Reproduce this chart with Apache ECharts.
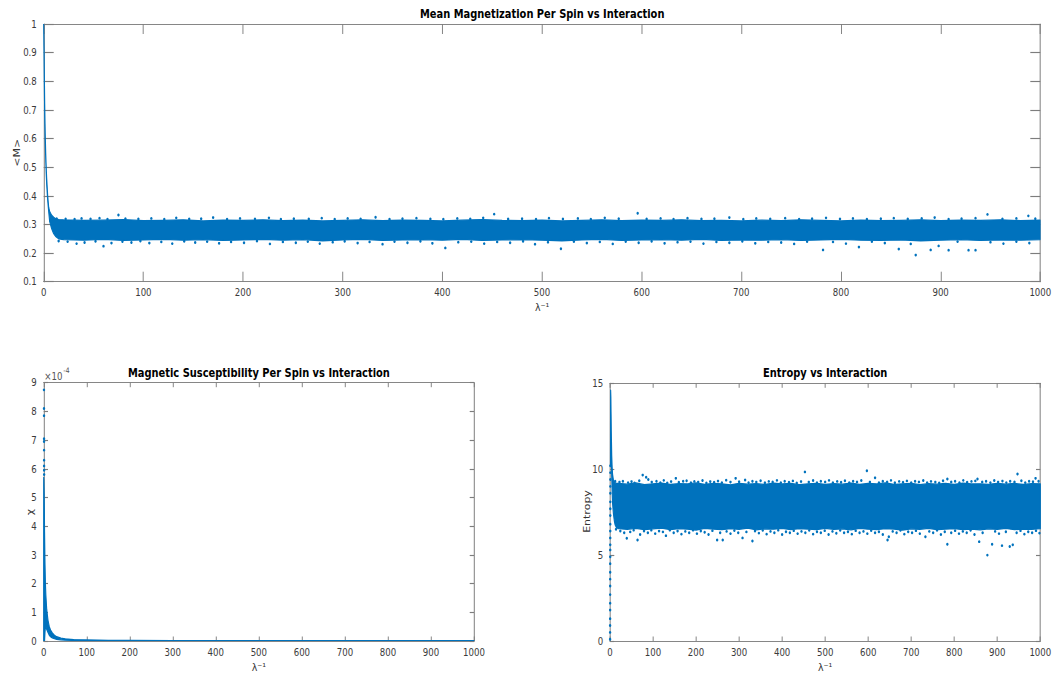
<!DOCTYPE html>
<html>
<head>
<meta charset="utf-8">
<title>Spin model vs interaction</title>
<script src="https://cdn.jsdelivr.net/npm/echarts/dist/echarts.min.js"></script>
<style>
  html, body { margin: 0; padding: 0; background: #fff; overflow: hidden; }
  /* the figure is laid out on a wider canvas and squeezed horizontally */
  #chart { width: 1233px; height: 673px; transform: scaleX(0.86); transform-origin: 0 0; }
</style>
</head>
<body>
<div id="chart"></div>
<script>
// ---------- tick labels ----------
const xTicks = [0, 100, 200, 300, 400, 500, 600, 700, 800, 900, 1000];
const mTicks = [0.1, 0.2, 0.3, 0.4, 0.5, 0.6, 0.7, 0.8, 0.9, 1];
const chiTicks = [0, 1, 2, 3, 4, 5, 6, 7, 8, 9];      // in units of 1e-4
const sTicks = [0, 5, 10, 15];

// ---------- sample positions (lambda^-1) along the dense bands ----------
const bandX = [20,40,60,80,100,120,140,160,180,200,220,240,260,280,300,320,340,360,380,400,
  420,440,460,480,500,520,540,560,580,600,620,640,660,680,700,720,740,760,780,800,
  820,840,860,880,900,920,940,960,980,1000];

// ---------- mean magnetization <M> ----------
const mEarlyX = [0, 0.3, 0.6, 1.0, 1.5, 2, 2.5, 3, 4, 5, 6, 8, 10, 12, 15];
const mEarlyUpper = [1.0, 0.93, 0.84, 0.72, 0.62, 0.55, 0.5, 0.46, 0.4, 0.36, 0.345, 0.332, 0.325, 0.32, 0.317];
const mEarlyLower = [0.99, 0.9, 0.8, 0.68, 0.59, 0.53, 0.48, 0.44, 0.385, 0.345, 0.31, 0.285, 0.268, 0.258, 0.25];
const mUpper = [0.316,0.314,0.315,0.317,0.313,0.314,0.316,0.312,0.315,0.314,0.316,0.313,0.315,0.312,0.314,0.316,0.313,0.315,0.314,0.312,
  0.315,0.317,0.314,0.313,0.315,0.312,0.314,0.316,0.313,0.315,0.314,0.316,0.313,0.314,0.312,0.315,0.313,0.316,0.314,0.312,
  0.315,0.313,0.314,0.316,0.313,0.315,0.314,0.316,0.313,0.315];
const mLower = [0.247,0.245,0.248,0.244,0.246,0.248,0.245,0.247,0.244,0.246,0.248,0.245,0.247,0.243,0.246,0.248,0.244,0.246,0.247,0.245,
  0.248,0.244,0.246,0.247,0.245,0.243,0.246,0.248,0.244,0.246,0.247,0.245,0.248,0.244,0.246,0.245,0.247,0.244,0.246,0.248,
  0.245,0.244,0.246,0.243,0.245,0.247,0.244,0.246,0.245,0.247];
const mHigh = [[13,0.32],[22,0.319],[31,0.318],[38,0.321],[47,0.319],[56,0.322],[64,0.318],[75,0.333],[82,0.32],[95,0.319],
  [108,0.321],[121,0.318],[133,0.323],[146,0.319],[158,0.32],[170,0.324],[184,0.318],[197,0.321],[212,0.319],[226,0.323],
  [238,0.318],[251,0.32],[266,0.319],[279,0.322],[292,0.318],[305,0.321],[318,0.319],[333,0.325],[347,0.318],[360,0.32],
  [374,0.322],[388,0.319],[401,0.318],[415,0.321],[428,0.319],[441,0.323],[452,0.336],[466,0.319],[480,0.32],[494,0.318],
  [507,0.322],[521,0.319],[536,0.321],[549,0.318],[563,0.323],[577,0.32],[596,0.339],[605,0.319],[619,0.321],[632,0.318],
  [646,0.322],[660,0.319],[673,0.32],[688,0.324],[702,0.318],[715,0.321],[729,0.319],[744,0.322],[758,0.318],[771,0.32],
  [785,0.323],[799,0.319],[812,0.321],[826,0.318],[840,0.32],[853,0.322],[867,0.319],[881,0.321],[894,0.324],[908,0.318],
  [921,0.32],[935,0.322],[947,0.335],[962,0.319],[976,0.321],[988,0.33],[995,0.32]];
const mLow = [[15,0.242],[24,0.24],[33,0.233],[41,0.237],[52,0.241],[60,0.224],[68,0.235],[79,0.24],[88,0.237],[97,0.242],
  [106,0.235],[118,0.239],[129,0.233],[141,0.241],[152,0.237],[164,0.24],[176,0.234],[188,0.239],[201,0.236],[214,0.242],
  [227,0.232],[240,0.239],[253,0.236],[265,0.24],[277,0.233],[290,0.238],[302,0.241],[315,0.235],[327,0.239],[340,0.231],
  [352,0.24],[365,0.236],[378,0.241],[390,0.234],[403,0.218],[416,0.238],[429,0.24],[442,0.233],[455,0.239],[468,0.236],
  [481,0.241],[493,0.231],[506,0.238],[519,0.215],[532,0.24],[545,0.235],[558,0.239],[571,0.232],[584,0.24],[597,0.236],
  [610,0.241],[623,0.234],[636,0.238],[649,0.24],[662,0.233],[675,0.239],[688,0.236],[701,0.241],[714,0.234],[727,0.239],
  [740,0.237],[753,0.232],[766,0.24],[782,0.211],[792,0.239],[805,0.233],[818,0.221],[831,0.24],[844,0.235],[858,0.214],
  [870,0.232],[875,0.193],[890,0.211],[898,0.225],[908,0.21],[917,0.24],[928,0.21],[935,0.21],[950,0.238],[963,0.233],
  [976,0.24],[989,0.235]];

// ---------- magnetic susceptibility chi (x 1e-4) ----------
const chiX = [0, 0.5, 1, 1.5, 2, 3, 4, 5, 7, 10, 13, 16, 20, 25, 30, 40, 50, 70, 100, 150, 200, 300, 400, 500, 600, 700, 800, 900, 1000];
const chiUpper = [5.7, 5.6, 5.2, 4.6, 3.8, 2.7, 2.0, 1.6, 1.1, 0.72, 0.5, 0.38, 0.28, 0.2, 0.15, 0.1, 0.075, 0.05, 0.035, 0.025, 0.02, 0.016, 0.014, 0.013, 0.012, 0.012, 0.011, 0.011, 0.01];
const chiLower = [0, 0, 0, 0, 0, 0.3, 0.5, 0.5, 0.4, 0.3, 0.2, 0.15, 0.11, 0.08, 0.06, 0.04, 0.03, 0.02, 0.012, 0.008, 0.006, 0.005, 0.004, 0.004, 0.004, 0.003, 0.003, 0.003, 0.003];
const chiPeak = [[0.6,8.75],[0.7,8.1],[0.75,7.85],[0.8,7.05],[0.85,6.95],[0.85,6.65],[0.9,6.3],[0.9,6.1],[0.95,5.95],[1.0,5.8]];

// ---------- entropy ----------
const sRise = [[0.2,0.1],[0.2,0.5],[0.25,0.9],[0.3,1.3],[0.3,1.8],[0.35,2.2],[0.35,2.7],[0.4,3.2],[0.4,3.6],[0.45,4.0],
  [0.45,4.5],[0.5,4.9],[0.5,5.3],[0.55,5.6],[0.55,6.0],[0.6,6.4],[0.6,6.8],[0.65,7.3],[0.7,7.7],[0.7,8.1],
  [0.75,8.6],[0.8,9.0],[0.8,9.4],[0.85,9.8],[0.9,10.2]];
const sEarlyX = [0.9, 1.2, 1.5, 2, 2.5, 3, 4, 5, 6, 8, 10, 12, 15];
const sEarlyUpper = [10.5, 12.5, 14.6, 14.2, 13.2, 12.2, 10.8, 10.1, 9.7, 9.35, 9.25, 9.2, 9.17];
const sEarlyLower = [10.2, 12.0, 14.0, 13.2, 12.0, 11.0, 9.6, 8.7, 8.0, 7.4, 7.0, 6.75, 6.6];
const sUpper = [9.17,9.13,9.2,9.1,9.15,9.19,9.11,9.16,9.14,9.2,9.12,9.17,9.15,9.09,9.18,9.13,9.16,9.11,9.19,9.14,
  9.17,9.1,9.15,9.18,9.12,9.16,9.13,9.19,9.11,9.17,9.14,9.2,9.12,9.15,9.18,9.1,9.16,9.13,9.17,9.11,
  9.19,9.14,9.15,9.12,9.18,9.13,9.17,9.11,9.16,9.15];
const sLower = [6.54,6.5,6.56,6.48,6.53,6.57,6.49,6.54,6.51,6.46,6.55,6.52,6.48,6.54,6.5,6.57,6.47,6.53,6.51,6.55,
  6.49,6.54,6.52,6.48,6.56,6.5,6.53,6.47,6.55,6.51,6.49,6.54,6.52,6.46,6.53,6.5,6.56,6.48,6.52,6.54,
  6.49,6.51,6.47,6.53,6.5,6.55,6.48,6.52,6.5,6.54];
const sHigh = [[12,9.3],[22,9.25],[30,9.3],[42,9.22],[50,9.28],[57,9.2],[68,9.33],[76,9.66],[84,9.53],[89,9.4],
  [97,9.25],[108,9.3],[117,9.22],[125,9.35],[133,9.2],[142,9.28],[153,9.47],[160,9.24],[170,9.3],[178,9.33],
  [188,9.22],[196,9.29],[205,9.25],[215,9.34],[224,9.2],[233,9.28],[242,9.24],[251,9.31],[260,9.22],[270,9.36],
  [280,9.25],[292,9.47],[300,9.27],[314,9.37],[322,9.22],[331,9.3],[340,9.25],[350,9.33],[360,9.21],[369,9.29],
  [378,9.26],[388,9.35],[397,9.22],[406,9.3],[416,9.24],[425,9.32],[434,9.2],[444,9.28],[453,9.84],[462,9.25],
  [472,9.34],[481,9.22],[490,9.3],[500,9.26],[509,9.35],[518,9.21],[528,9.29],[537,9.24],[546,9.33],[556,9.22],
  [565,9.3],[574,9.26],[584,9.34],[597,9.91],[604,9.25],[616,9.5],[625,9.22],[634,9.3],[644,9.26],[653,9.35],
  [662,9.21],[672,9.29],[681,9.24],[690,9.32],[700,9.22],[709,9.3],[718,9.26],[728,9.34],[737,9.22],[746,9.29],
  [756,9.25],[765,9.2],[774,9.33],[784,9.43],[793,9.26],[802,9.3],[812,9.22],[821,9.35],[830,9.24],[840,9.29],
  [849,9.32],[854,9.43],[865,9.26],[874,9.3],[884,9.22],[893,9.34],[902,9.25],[912,9.31],[921,9.22],[930,9.3],
  [940,9.26],[947,9.72],[956,9.33],[965,9.22],[974,9.3],[983,9.27],[989,9.47],[996,9.3]];
const sLow = [[14,6.5],[24,6.4],[33,6.3],[39,5.98],[47,6.35],[55,6.45],[64,5.88],[70,6.2],[79,6.4],[88,6.3],
  [96,6.45],[105,6.25],[114,6.4],[123,6.35],[130,6.13],[139,6.45],[148,6.3],[157,6.4],[166,6.22],[175,6.38],
  [184,6.3],[193,6.45],[202,6.25],[211,6.4],[220,6.33],[229,6.2],[238,6.42],[249,5.88],[256,6.3],[262,5.88],
  [271,6.38],[280,6.25],[289,6.43],[298,6.3],[308,6.0],[317,6.35],[331,5.82],[337,6.4],[346,6.28],[355,6.44],
  [364,6.22],[373,6.38],[382,6.3],[391,6.45],[400,6.2],[409,6.36],[418,6.3],[427,6.42],[436,6.25],[445,6.38],
  [454,6.3],[463,6.44],[472,6.22],[481,6.36],[490,6.3],[499,6.42],[508,6.2],[517,6.38],[526,6.27],[535,6.44],
  [544,6.3],[553,6.36],[562,6.22],[571,6.42],[580,6.3],[589,6.38],[598,6.25],[607,6.43],[616,6.3],[625,6.36],
  [634,6.2],[645,5.88],[648,6.07],[657,6.38],[666,6.3],[675,6.44],[684,6.22],[693,6.36],[702,6.3],[711,6.42],
  [720,6.25],[733,6.07],[742,6.38],[751,6.3],[760,6.44],[769,6.2],[778,6.36],[784,5.63],[793,6.3],[802,6.42],
  [811,6.25],[820,6.38],[829,6.3],[838,6.44],[847,6.2],[858,5.78],[866,6.3],[877,5.0],[888,5.63],[895,6.38],
  [904,6.25],[911,5.55],[920,6.36],[929,5.5],[936,5.6],[945,6.3],[954,6.42],[963,6.22],[972,6.36],[981,6.3],
  [990,6.42],[998,6.28]];

// ---------- styling ----------
const BLUE = '#0072BD';
const AXIS = '#7d7d7d';
const LABEL = '#3a3a3a';
const FONT = 'DejaVu Sans';
const SQ = 0.86;                       // horizontal squeeze of the page
const px = v => v / SQ;                // screen x -> layout x

const grids = [
  { left: px(43.7), top: 24,    width: px(1040.3) - px(43.7), height: 257.7 },
  { left: px(43.7), top: 382.7, width: px(474) - px(43.7),    height: 258.3 },
  { left: px(610),  top: 383.3, width: px(1040.3) - px(610),  height: 257.7 }
];

function ticksInterval(t) { return t[1] - t[0]; }

function xPair(gi, tickLen) {
  const base = {
    type: 'value', gridIndex: gi, min: xTicks[0], max: xTicks[xTicks.length - 1],
    interval: ticksInterval(xTicks), splitLine: { show: false },
    axisLine: { show: true, onZero: false, lineStyle: { color: AXIS, width: 1 } },
    axisTick: { show: true, inside: true, length: tickLen, lineStyle: { color: AXIS, width: 1 } }
  };
  return [
    Object.assign({}, base, { position: 'bottom',
      axisLabel: { show: true, margin: 6, color: LABEL, fontSize: 10, fontFamily: FONT,
        formatter: v => String(v) } }),
    Object.assign({}, base, { position: 'top', axisLabel: { show: false } })
  ];
}

function yPair(gi, ticks, tickLen) {
  const base = {
    type: 'value', gridIndex: gi, min: ticks[0], max: ticks[ticks.length - 1],
    interval: ticksInterval(ticks), splitLine: { show: false },
    axisLine: { show: true, onZero: false, lineStyle: { color: AXIS, width: 1.15 } },
    axisTick: { show: true, inside: true, length: tickLen, lineStyle: { color: AXIS, width: 1.15 } }
  };
  return [
    Object.assign({}, base, { position: 'left',
      axisLabel: { show: true, margin: 8, color: LABEL, fontSize: 10, fontFamily: FONT,
        formatter: v => String(+v.toFixed(2)) } }),
    Object.assign({}, base, { position: 'right', axisLabel: { show: false } })
  ];
}

// filled band between an upper and a lower envelope, placed through the axes
function band(xs, up, lo, axisIndex) {
  return {
    type: 'custom', xAxisIndex: axisIndex, yAxisIndex: axisIndex, silent: true, clip: true, z: 2,
    data: [[xs[0], up[0]]],
    renderItem: (params, api) => {
      const pts = [];
      for (let i = 0; i < xs.length; i++) pts.push(api.coord([xs[i], up[i]]));
      for (let i = xs.length - 1; i >= 0; i--) pts.push(api.coord([xs[i], lo[i]]));
      return { type: 'polygon', shape: { points: pts },
        style: { fill: BLUE, stroke: BLUE, lineWidth: 1.3, lineJoin: 'round' } };
    }
  };
}

function dots(data, axisIndex) {
  return { type: 'scatter', xAxisIndex: axisIndex, yAxisIndex: axisIndex, symbol: 'circle',
    symbolSize: 2.8, silent: true, z: 3, itemStyle: { color: BLUE, opacity: 1 }, data: data };
}

function txt(text, x, y, size, opts) {
  return Object.assign({
    type: 'text', x: x, y: y, silent: true,
    style: { text: text, fill: opts && opts.fill || '#222', fontSize: size, fontFamily: FONT,
      fontWeight: opts && opts.bold ? 'bold' : 'normal',
      align: opts && opts.align || 'center', verticalAlign: 'middle',
      textAlign: opts && opts.align || 'center', textVerticalAlign: 'middle' }
  }, opts && opts.rot ? { rotation: Math.PI / 2 } : {});
}

const option = {
  animation: false,
  backgroundColor: '#fff',
  textStyle: { fontFamily: FONT },
  grid: grids.map(g => Object.assign({ containLabel: false }, g)),
  xAxis: [].concat(xPair(0, 10), xPair(1, 4.5), xPair(2, 4.5)),
  yAxis: [].concat(yPair(0, mTicks, px(10)), yPair(1, chiTicks, px(4.3)), yPair(2, sTicks, px(4.3))),
  series: [
    band(mEarlyX.concat(bandX), mEarlyUpper.concat(mUpper), mEarlyLower.concat(mLower), 0),
    dots(mHigh, 0),
    dots(mLow, 0),
    band(chiX, chiUpper, chiLower, 2),
    dots(chiPeak, 2),
    band(sEarlyX.concat(bandX), sEarlyUpper.concat(sUpper), sEarlyLower.concat(sLower), 4),
    dots(sRise, 4),
    dots(sHigh, 4),
    dots(sLow, 4)
  ],
  graphic: [
    txt('Mean Magnetization Per Spin vs Interaction', px(542.2), 14, 11.5, { bold: true, fill: '#000' }),
    txt('Magnetic Susceptibility Per Spin vs Interaction', px(258.9), 373, 11.5, { bold: true, fill: '#000' }),
    txt('Entropy vs Interaction', px(825.2), 373, 11.5, { bold: true, fill: '#000' }),
    txt('λ⁻¹', px(542.2), 307, 11, { fill: '#333' }),
    txt('λ⁻¹', px(258.9), 667, 11, { fill: '#333' }),
    txt('λ⁻¹', px(825.2), 667, 11, { fill: '#333' }),
    txt('<M>', px(16.7), 152.7, 11, { rot: true, fill: '#333' }),
    txt('χ', px(29), 512, 11, { rot: true, fill: '#333' }),
    txt('Entropy', px(586.7), 511.5, 11, { rot: true, fill: '#333' }),
    txt('×10', px(44.3), 376, 10, { align: 'left', fill: '#555' }),
    txt('-4', px(63.3), 371, 7.5, { align: 'left', fill: '#555' })
  ]
};

const chart = echarts.init(document.getElementById('chart'), null, { renderer: 'svg' });
chart.setOption(option);
</script>
</body>
</html>
